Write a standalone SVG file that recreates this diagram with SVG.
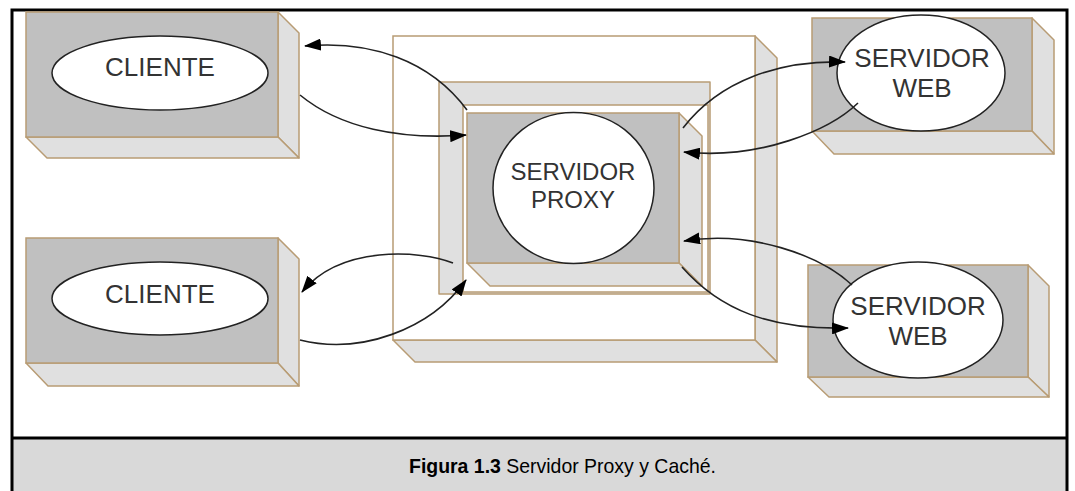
<svg xmlns="http://www.w3.org/2000/svg" width="1075" height="491" viewBox="0 0 1075 491">
<defs>
<style>
.top{fill:#c0c0c0;stroke:#b89c74;stroke-width:1.5}
.side{fill:#e0e0e0;stroke:#b89c74;stroke-width:1.5;stroke-linejoin:round}
.wht{fill:#ffffff;stroke:#b89c74;stroke-width:1.5}
.ell{fill:#ffffff;stroke:#222;stroke-width:1.5}
.lbl{font-family:"Liberation Sans",Arial,sans-serif;font-size:26px;fill:#333;text-anchor:middle}
.con{fill:none;stroke:#222;stroke-width:1.6}
.cap{font-family:"Liberation Sans",Arial,sans-serif;font-size:21px;fill:#000}
</style>
<marker id="ah" markerUnits="userSpaceOnUse" markerWidth="18" markerHeight="12" refX="16" refY="6" orient="auto">
<path d="M0,0 L17,6 L0,12 z" fill="#000"/>
</marker>
</defs>
<rect x="0" y="0" width="1075" height="491" fill="#fff"/>
<rect x="12" y="438" width="1055" height="53" fill="#d9d9d9"/>
<rect x="12" y="10" width="1055" height="484" fill="none" stroke="#000" stroke-width="3"/>
<line x1="12" y1="438" x2="1067" y2="438" stroke="#000" stroke-width="3"/>

<g id="cliente1">
<polygon class="side" points="278,12 299,33 299,158 278,137"/>
<polygon class="side" points="26,137 47,158 299,158 278,137"/>
<rect class="top" x="26" y="12" width="252" height="125"/>
<ellipse class="ell" cx="160" cy="73" rx="108" ry="37"/>
<text class="lbl" x="160" y="76">CLIENTE</text>
</g>

<g id="cliente2">
<polygon class="side" points="278,238 299,259 299,386 278,363"/>
<polygon class="side" points="26,363 48,386 299,386 278,363"/>
<rect class="top" x="26" y="238" width="252" height="125"/>
<ellipse class="ell" cx="160" cy="298.5" rx="108" ry="36.5"/>
<text class="lbl" x="160" y="303">CLIENTE</text>
</g>

<g id="servidorweb1">
<polygon class="side" points="1032,18 1054,40 1054,154 1032,131"/>
<polygon class="side" points="812,131 834,154 1054,154 1032,131"/>
<rect class="top" x="812" y="18" width="220" height="113"/>
<ellipse class="ell" cx="921" cy="73" rx="84" ry="58"/>
<text class="lbl" x="922" y="67">SERVIDOR</text>
<text class="lbl" x="922" y="97">WEB</text>
</g>

<g id="servidorweb2">
<polygon class="side" points="1028,265 1049,286 1049,397 1028,377"/>
<polygon class="side" points="808,377 829,397 1049,397 1028,377"/>
<rect class="top" x="808" y="265" width="220" height="112"/>
<ellipse class="ell" cx="918" cy="320" rx="85" ry="58"/>
<text class="lbl" x="918" y="315">SERVIDOR</text>
<text class="lbl" x="918" y="345">WEB</text>
</g>

<g id="proxy">
<polygon class="side" points="755,36 777,58 777,362 755,340"/>
<polygon class="side" points="393,340 415,362 777,362 755,340"/>
<rect class="wht" x="393" y="36" width="362" height="304"/>
<rect class="side" x="439" y="82" width="271" height="212"/>
<rect class="wht" x="463" y="105" width="245" height="187"/>
<polygon class="side" points="679,113 702,136 702,286 679,263"/>
<polygon class="side" points="467,263 490,286 702,286 679,263"/>
<rect class="top" x="467" y="113" width="212" height="150"/>
<ellipse class="ell" cx="573.5" cy="188" rx="80.5" ry="75.5"/>
<text class="lbl" x="573" y="180" style="font-size:24px">SERVIDOR</text>
<text class="lbl" x="573" y="208" style="font-size:24px">PROXY</text>
</g>

<g id="connectors">
<path class="con" marker-end="url(#ah)" d="M467,110 C430,60 370,40 305,46"/>
<path class="con" marker-end="url(#ah)" d="M300,95 C340,128 400,140 466,135"/>
<path class="con" marker-end="url(#ah)" d="M453,263 C420,250 340,245 302,292"/>
<path class="con" marker-end="url(#ah)" d="M300,340 C360,355 430,330 466,280"/>
<path class="con" marker-end="url(#ah)" d="M683,128 C720,80 780,60 845,62"/>
<path class="con" marker-end="url(#ah)" d="M858,103 C830,130 760,160 684,152"/>
<path class="con" marker-end="url(#ah)" d="M852,285 C820,255 750,230 684,241"/>
<path class="con" marker-end="url(#ah)" d="M682,267 C720,310 770,330 848,328"/>
</g>

<text class="cap" x="409" y="473" textLength="307" lengthAdjust="spacingAndGlyphs"><tspan font-weight="bold">Figura 1.3</tspan> Servidor Proxy y Caché.</text>
</svg>
